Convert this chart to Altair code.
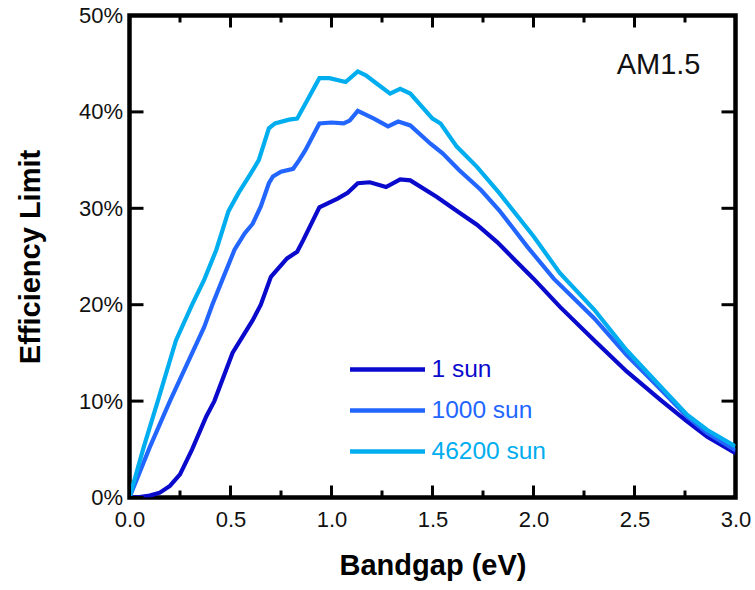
import altair as alt
import pandas as pd

# ---- data ----
series_names = ["1 sun", "1000 sun", "46200 sun"]
series_colors = ["#0A0ACD", "#2266FF", "#00ADEE"]

sun1_bandgap = [0.00, 0.05, 0.10, 0.15, 0.20, 0.25, 0.31, 0.38, 0.42, 0.51, 0.61, 0.65, 0.70,
                0.78, 0.83, 0.86, 0.94, 1.03, 1.08, 1.13, 1.19, 1.27, 1.34, 1.39, 1.52, 1.63,
                1.72, 1.82, 1.90, 2.00, 2.13, 2.30, 2.46, 2.63, 2.76, 2.86, 3.00]
sun1_eff = [0.0, 0.05, 0.2, 0.5, 1.2, 2.4, 5.0, 8.4, 10.0, 15.0, 18.4, 20.0, 22.9,
            24.8, 25.5, 26.7, 30.1, 31.0, 31.6, 32.6, 32.7, 32.2, 33.0, 32.9, 31.2, 29.6,
            28.3, 26.5, 24.8, 22.7, 19.8, 16.3, 13.1, 10.1, 7.9, 6.3, 4.6]

sun1000_bandgap = [0.00, 0.10, 0.20, 0.37, 0.41, 0.46, 0.52, 0.57, 0.61, 0.65, 0.69, 0.71, 0.75,
                   0.81, 0.84, 0.87, 0.94, 1.00, 1.06, 1.09, 1.13, 1.21, 1.28, 1.33, 1.39, 1.49,
                   1.55, 1.63, 1.74, 1.83, 1.97, 2.10, 2.30, 2.46, 2.63, 2.76, 2.86, 3.00]
sun1000_eff = [0.0, 5.2, 10.0, 17.7, 20.0, 22.6, 25.7, 27.4, 28.4, 30.2, 32.6, 33.3, 33.8,
               34.1, 35.0, 36.0, 38.8, 38.9, 38.8, 39.1, 40.1, 39.3, 38.5, 39.0, 38.6, 36.7,
               35.7, 34.0, 31.9, 29.8, 26.0, 22.7, 18.6, 14.8, 11.2, 8.4, 6.7, 4.9]

sun46200_bandgap = [0.00, 0.07, 0.14, 0.23, 0.31, 0.37, 0.43, 0.49, 0.54, 0.60, 0.64, 0.69, 0.72,
                    0.79, 0.83, 0.88, 0.94, 0.99, 1.07, 1.13, 1.17, 1.22, 1.29, 1.34, 1.39, 1.50,
                    1.54, 1.62, 1.72, 1.83, 2.00, 2.13, 2.30, 2.46, 2.63, 2.76, 2.86, 3.00]
sun46200_eff = [0.0, 5.2, 10.0, 16.3, 20.0, 22.6, 25.7, 29.7, 31.6, 33.6, 35.0, 38.3, 38.8,
                39.2, 39.3, 41.2, 43.5, 43.5, 43.1, 44.2, 43.8, 43.0, 41.9, 42.4, 41.9, 39.3,
                38.8, 36.4, 34.3, 31.6, 27.1, 23.3, 19.5, 15.3, 11.5, 8.6, 7.0, 5.3]

x_major_ticks = [0.0, 0.5, 1.0, 1.5, 2.0, 2.5, 3.0]
x_minor_ticks = [0.25, 0.75, 1.25, 1.75, 2.25, 2.75]
y_major_ticks = [0.0, 0.1, 0.2, 0.3, 0.4, 0.5]

# ---- build table ----
rows = []
for name, xs, ys in zip(series_names,
                        [sun1_bandgap, sun1000_bandgap, sun46200_bandgap],
                        [sun1_eff, sun1000_eff, sun46200_eff]):
    for i, (e, v) in enumerate(zip(xs, ys)):
        rows.append({"series": name, "Bandgap": e, "Efficiency": v / 100.0, "order": i})
df = pd.DataFrame(rows)

W, H = 606, 482
FONT = "Liberation Sans"
xscale = alt.Scale(domain=[0, 3], nice=False, zero=False)
yscale = alt.Scale(domain=[0, 0.5], nice=False)

lines = alt.Chart(df).mark_line(strokeWidth=4.2, clip=True).encode(
    x=alt.X("Bandgap:Q", scale=xscale,
            axis=alt.Axis(values=x_major_ticks, format=".1f", title="Bandgap (eV)",
                          labelPadding=12, labelFlush=False,
                          titleY=68, titleBaseline="middle")),
    y=alt.Y("Efficiency:Q", scale=yscale,
            axis=alt.Axis(values=y_major_ticks, format=".0%", title="Efficiency Limit",
                          labelPadding=7, labelFlush=False,
                          titleX=-99, titleY=H / 2,
                          titleBaseline="middle", titleAngle=-90)),
    color=alt.Color("series:N",
                    scale=alt.Scale(domain=series_names, range=series_colors),
                    legend=alt.Legend(title=None, orient="none", legendX=218, legendY=343,
                                      symbolType="stroke", symbolSize=5625,
                                      symbolStrokeWidth=4.5, labelFontSize=24.5,
                                      labelFont=FONT, clipHeight=22, rowPadding=16,
                                      labelOffset=4, padding=0,
                                      labelColor=alt.ExprRef("scale('color', datum.value)"))),
    order="order:Q",
)

xmaj = pd.DataFrame({"v": x_major_ticks})
xmin = pd.DataFrame({"v": x_minor_ticks})
ymaj = pd.DataFrame({"v": y_major_ticks})

tick_style = dict(color="black", strokeWidth=3)
bottom_major = alt.Chart(xmaj).mark_rule(**tick_style).encode(
    x=alt.X("v:Q", scale=xscale), y=alt.value(H), y2=alt.value(H - 12))
top_major = alt.Chart(xmaj).mark_rule(**tick_style).encode(
    x=alt.X("v:Q", scale=xscale), y=alt.value(0), y2=alt.value(12))
bottom_minor = alt.Chart(xmin).mark_rule(**tick_style).encode(
    x=alt.X("v:Q", scale=xscale), y=alt.value(H), y2=alt.value(H - 7))
top_minor = alt.Chart(xmin).mark_rule(**tick_style).encode(
    x=alt.X("v:Q", scale=xscale), y=alt.value(0), y2=alt.value(7))
left_major = alt.Chart(ymaj).mark_rule(**tick_style).encode(
    y=alt.Y("v:Q", scale=yscale), x=alt.value(0), x2=alt.value(14))
right_major = alt.Chart(ymaj).mark_rule(**tick_style).encode(
    y=alt.Y("v:Q", scale=yscale), x=alt.value(W), x2=alt.value(W - 14))

label = alt.Chart(pd.DataFrame({"t": ["AM1.5"]})).mark_text(
    align="right", baseline="alphabetic", fontSize=29, font=FONT, color="#111111"
).encode(text="t:N", x=alt.value(571), y=alt.value(58))

chart = alt.layer(
    lines, bottom_major, top_major, bottom_minor, top_minor, left_major, right_major, label
).properties(
    width=W, height=H,
    background="white",
    autosize=alt.AutoSizeParams(type="none"),
    padding={"left": 129.5, "top": 15.5, "right": 19.5, "bottom": 92.5},
).configure_view(
    stroke="black", strokeWidth=4.5
).configure_axis(
    domain=False, ticks=False, grid=False,
    labelFont=FONT, labelFontSize=22, labelColor="#111111",
    titleFont=FONT, titleFontSize=29, titleFontWeight="bold", titleColor="#000000",
)

chart.save("out.html", embed_options={"renderer": "svg", "actions": False})
